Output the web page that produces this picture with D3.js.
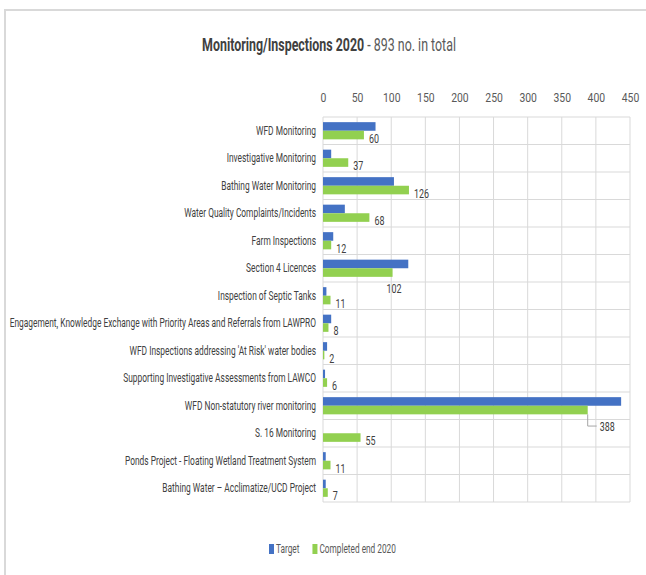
<!DOCTYPE html>
<html>
<head>
<meta charset="utf-8">
<script src="https://cdn.jsdelivr.net/npm/d3@7"></script>
<style>
  body { margin: 0; background: #fff; }
  svg text { font-family: "Roboto", "DejaVu Sans", sans-serif; }
</style>
</head>
<body>
<div id="chart"></div>
<script>
// categories, top to bottom
var categories = [
  "WFD Monitoring",
  "Investigative Monitoring",
  "Bathing Water Monitoring",
  "Water Quality Complaints/Incidents",
  "Farm Inspections",
  "Section 4 Licences",
  "Inspection of Septic Tanks",
  "Engagement, Knowledge Exchange with Priority Areas and Referrals from LAWPRO",
  "WFD Inspections addressing 'At Risk' water bodies",
  "Supporting Investigative Assessments from LAWCO",
  "WFD Non-statutory river monitoring",
  "S. 16 Monitoring",
  "Ponds Project - Floating Wetland Treatment System",
  "Bathing Water \u2013 Acclimatize/UCD Project"
];
var target =    [77, 12, 104, 32, 15, 125, 5, 12, 6, 3, 437, 0, 4, 4];
var completed = [60, 37, 126, 68, 12, 102, 11, 8, 2, 6, 388, 55, 11, 7];
var xTicks = [0, 50, 100, 150, 200, 250, 300, 350, 400, 450];
var seriesNames = ["Target", "Completed end 2020"];
var seriesColors = ["#4472C4", "#92D050"];

var width = 646, height = 575;
// the reference uses a narrow font; squeeze text horizontally
var sq = 0.69;
var squeeze = "scale(" + sq + ",1)";

var svg = d3.select("#chart").append("svg")
  .attr("width", width)
  .attr("height", height);

// outer chart frame (only top + left visible in the reference)
svg.append("path")
  .attr("d", "M5,575 L5,10 L646,10")
  .attr("fill", "none")
  .attr("stroke", "#d9d9d9")
  .attr("stroke-width", 2);

// title
var title = svg.append("g")
  .attr("transform", "translate(329,51) " + squeeze)
  .append("text")
  .attr("text-anchor", "middle")
  .style("font-size", "18px")
  .style("fill", "#404040");
title.append("tspan").style("font-weight", "bold").text("Monitoring/Inspections 2020");
title.append("tspan").style("fill", "#595959").text(" - 893 no. in total");

var x = d3.scaleLinear().domain([0, 450]).range([323, 630]);
var y = d3.scaleBand().domain(categories).range([117, 502]);
var inner = d3.scaleBand().domain(seriesNames).range([0, y.bandwidth()]).paddingOuter(0.6).paddingInner(0);

// grid
var grid = svg.append("g");
grid.selectAll("line.v")
  .data(xTicks)
  .enter()
  .append("line")
    .attr("x1", function(d){ return x(d) })
    .attr("x2", function(d){ return x(d) })
    .attr("y1", 117)
    .attr("y2", 502)
    .attr("stroke", "#d9d9d9");
grid.selectAll("line.h")
  .data(categories.concat(["end"]))
  .enter()
  .append("line")
    .attr("x1", x(0))
    .attr("x2", x(450))
    .attr("y1", function(d, i){ return 117 + i * y.step() })
    .attr("y2", function(d, i){ return 117 + i * y.step() })
    .attr("stroke", "#d9d9d9");

// top axis labels
svg.append("g")
  .attr("transform", "translate(0,102)")
  .call(d3.axisTop(x).tickValues(xTicks).tickSize(0).tickPadding(0))
  .call(function(g){ g.select(".domain").remove() })
  .selectAll("text")
    .attr("transform", "scale(0.8,1)")
    .style("font-size", "13px")
    .style("fill", "#595959");

// category labels
svg.append("g")
  .attr("transform", "translate(" + (x(0) - 7) + ",0)")
  .call(d3.axisLeft(y).tickSize(0).tickPadding(0))
  .call(function(g){ g.select(".domain").remove() })
  .selectAll("text")
    .attr("transform", "scale(0.67,1)")
    .style("font-size", "12.5px")
    .style("fill", "#404040");

// bars
var rows = categories.map(function(c, i){
  return { cat: c, vals: [target[i], completed[i]] };
});
var groups = svg.selectAll("g.row")
  .data(rows)
  .enter()
  .append("g")
  .attr("transform", function(d){ return "translate(0," + y(d.cat) + ")" });

groups.selectAll("rect")
  .data(function(d){ return d.vals.map(function(v, j){ return { v: v, s: seriesNames[j], c: seriesColors[j] } }) })
  .enter()
  .append("rect")
    .attr("x", x(0))
    .attr("y", function(d){ return inner(d.s) })
    .attr("width", function(d){ return x(d.v) - x(0) })
    .attr("height", inner.bandwidth())
    .attr("fill", function(d){ return d.c });

// data labels for completed series
var labelShift = {
  "Section 4 Licences": [-6, 16],
  "WFD Non-statutory river monitoring": [12, 16]
};
groups.each(function(d, i){
  var g = d3.select(this);
  var v = completed[i];
  var sh = labelShift[d.cat] || [5, 3];
  var lx = x(v) + sh[0];
  var ly = inner("Completed end 2020") + inner.bandwidth() / 2 + sh[1];
  if (d.cat == "WFD Non-statutory river monitoring") {
    g.append("path")
      .attr("d", "M" + x(v) + "," + (inner("Completed end 2020") + inner.bandwidth()) + " L" + x(v) + "," + ly + " L" + (lx - 3) + "," + ly)
      .attr("fill", "none")
      .attr("stroke", "#a6a6a6");
  }
  g.append("g")
    .attr("transform", "translate(" + lx + "," + ly + ") scale(0.66,1)")
    .append("text")
    .attr("dy", "0.35em")
    .style("font-size", "13.5px")
    .style("fill", "#404040")
    .text(v);
});

// legend
var legend = svg.append("g").attr("transform", "translate(269,549)");
var lx = 0;
seriesNames.forEach(function(n, i){
  legend.append("rect")
    .attr("x", lx)
    .attr("y", -5)
    .attr("width", 5)
    .attr("height", 10)
    .attr("fill", seriesColors[i]);
  var t = legend.append("text")
    .attr("transform", "translate(" + (lx + 7) + ",0) " + squeeze)
    .attr("dy", "0.35em")
    .style("font-size", "12px")
    .style("fill", "#595959")
    .text(n);
  lx += 7 + t.node().getComputedTextLength() * sq + 13;
});
</script>
</body>
</html>
